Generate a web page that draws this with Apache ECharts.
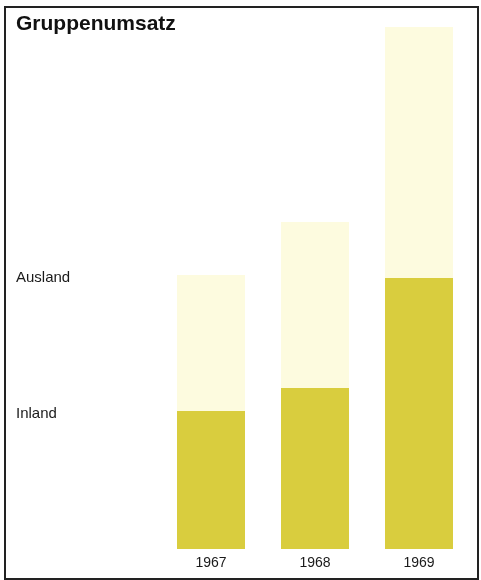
<!DOCTYPE html>
<html>
<head>
<meta charset="utf-8">
<script src="https://cdn.jsdelivr.net/npm/echarts@6/dist/echarts.min.js"></script>
<style>
  html, body { margin: 0; padding: 0; background: #fff; }
  #chart { width: 481px; height: 580px; }
</style>
</head>
<body>
<div id="chart"></div>
<script>
const years = ['1967', '1968', '1969'];
const inland = [138, 161, 271];
const ausland = [136, 166, 251];
const seriesNames = ['Inland', 'Ausland'];

const chart = echarts.init(document.getElementById('chart'));
const font = '"Liberation Sans", Arial, sans-serif';

chart.setOption({
  animation: false,
  backgroundColor: '#fff',
  grid: { left: 159, right: 10, top: 27, bottom: 31 },
  xAxis: {
    type: 'category',
    data: years,
    axisLine: { show: false },
    axisTick: { show: false },
    axisLabel: { color: '#1a1a1a', fontSize: 14, fontFamily: font, margin: 7 }
  },
  yAxis: { type: 'value', min: 0, max: 522, show: false, splitLine: { show: false } },
  series: [
    {
      name: seriesNames[0], type: 'bar', stack: 'u', barWidth: 68,
      itemStyle: { color: '#d9cd3e' }, data: inland
    },
    {
      name: seriesNames[1], type: 'bar', stack: 'u', barWidth: 68,
      itemStyle: { color: '#fdfbdf' }, data: ausland
    }
  ]
});

// side labels aligned with the tops of the first column's segments
const yInland = chart.convertToPixel({ gridIndex: 0 }, [0, inland[0]])[1];
const yTotal = chart.convertToPixel({ gridIndex: 0 }, [0, inland[0] + ausland[0]])[1];
chart.setOption({
  graphic: [
    {
      id: 'frame', type: 'rect', shape: { x: 5, y: 7, width: 473, height: 572 },
      style: { fill: 'none', stroke: '#222', lineWidth: 2 }
    },
    {
      id: 'title', type: 'text', left: 16, top: 14,
      style: { text: 'Gruppenumsatz', font: 'bold 21px ' + font, fill: '#111' }
    },
    {
      id: 'lblAusland', type: 'text', left: 16, top: yTotal - 5,
      style: { text: seriesNames[1], font: '15px ' + font, fill: '#1a1a1a' }
    },
    {
      id: 'lblInland', type: 'text', left: 16, top: yInland - 5,
      style: { text: seriesNames[0], font: '15px ' + font, fill: '#1a1a1a' }
    }
  ]
});
</script>
</body>
</html>
